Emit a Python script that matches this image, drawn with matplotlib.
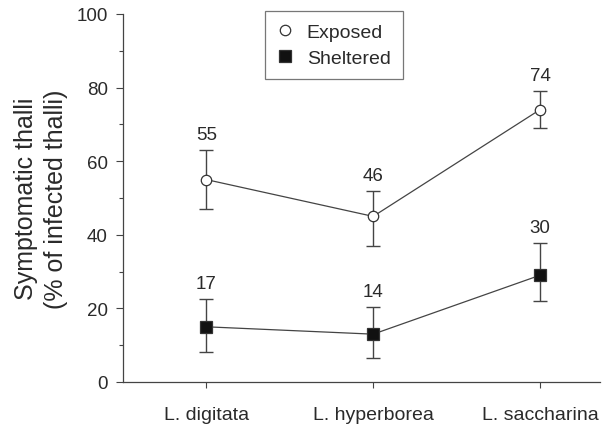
import matplotlib
matplotlib.use("Agg")
import matplotlib.pyplot as plt
from matplotlib.ticker import MultipleLocator

plt.rcParams['font.family'] = ['Liberation Sans', 'DejaVu Sans']

categories = ["L. digitata", "L. hyperborea", "L. saccharina"]
exposed = [55, 45, 74]
exposed_upper = [63, 52, 79]
exposed_lower = [47, 37, 69]
exposed_labels = ["55", "46", "74"]
sheltered = [15, 13, 29]
sheltered_upper = [22.5, 20.3, 37.8]
sheltered_lower = [8.2, 6.6, 22.1]
sheltered_labels = ["17", "14", "30"]

txt = '#2a2a2a'
lc = '#444444'

fig = plt.figure(figsize=(6.10, 4.31), dpi=100)
ax = fig.add_axes([123/610, 1-383/431, (600-123)/610, (383-15)/431])

x = [1, 2, 3]

def plot_series(vals, up, lo, labels, marker, mfc, ms, name):
    yerr = [[v - l for v, l in zip(vals, lo)], [u - v for u, v in zip(up, vals)]]
    ax.errorbar(x, vals, yerr=yerr, fmt='none', ecolor=lc, elinewidth=1.0,
                capsize=5, capthick=1.0, zorder=2)
    ax.plot(x, vals, color=lc, lw=0.9, marker=marker, ms=ms, mfc=mfc,
            mec='#333333', mew=0.9, zorder=3, label=name)
    for xi, u, t in zip(x, up, labels):
        ax.annotate(t, (xi, u), xytext=(0, 5), textcoords='offset points',
                    ha='center', va='bottom', fontsize=13.5, color=txt)

plot_series(exposed, exposed_upper, exposed_lower, exposed_labels, 'o', 'white', 7.5, 'Exposed')
plot_series(sheltered, sheltered_upper, sheltered_lower, sheltered_labels, 's', '#111111', 8, 'Sheltered')

ax.set_xlim(0.5, 3.36)
ax.set_ylim(0, 100)
ax.set_xticks(x)
ax.set_xticklabels(categories, fontsize=14, color=txt)
ax.set_yticks(range(0, 101, 20))
ax.yaxis.set_minor_locator(MultipleLocator(10))
ax.tick_params(axis='y', which='major', direction='out', length=5, width=0.8,
               colors=lc, labelcolor=txt, labelsize=13.5, pad=6)
ax.tick_params(axis='y', which='minor', direction='out', length=3, width=0.8, colors=lc)
ax.tick_params(axis='x', direction='out', length=4, width=0.8, colors=lc,
               labelcolor=txt, pad=13)
for s in ['top', 'right']:
    ax.spines[s].set_visible(False)
for s in ['left', 'bottom']:
    ax.spines[s].set_color(lc)
    ax.spines[s].set_linewidth(0.9)

ax.set_ylabel("Symptomatic thalli\n(% of infected thalli)", fontsize=18, color=txt,
              linespacing=1.3, labelpad=6)

leg = ax.legend(loc='upper left', bbox_to_anchor=(265/610, 1-12/431),
                bbox_transform=fig.transFigure, borderaxespad=0, fontsize=14,
                frameon=True, fancybox=False, edgecolor='#555555',
                handlelength=0.8, handletextpad=0.7, borderpad=0.65,
                labelspacing=0.4)
leg.get_frame().set_linewidth(0.9)
for lh in leg.get_lines():
    lh.set_linestyle('none')
for t in leg.get_texts():
    t.set_color(txt)

fig.savefig("out.png", dpi=100)
